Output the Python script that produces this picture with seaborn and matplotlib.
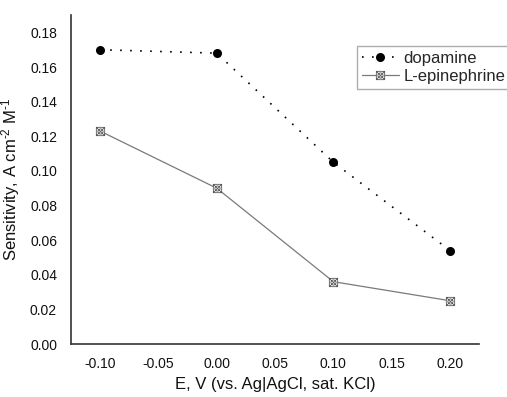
import matplotlib
matplotlib.use("Agg")
import matplotlib.pyplot as plt
from matplotlib.path import Path
import numpy as np
import pandas as pd
import seaborn as sns

# Applied potential (V vs. Ag|AgCl, sat. KCl)
potential = [-0.10, 0.00, 0.10, 0.20]
# Sensitivity, A cm^-2 M^-1
dopamine = [0.170, 0.168, 0.105, 0.054]
epinephrine = [0.123, 0.090, 0.036, 0.025]

x_ticks = [-0.10, -0.05, 0.00, 0.05, 0.10, 0.15, 0.20]
y_ticks = [0.00, 0.02, 0.04, 0.06, 0.08, 0.10, 0.12, 0.14, 0.16, 0.18]

df_dop = pd.DataFrame({"E": potential, "S": dopamine})
df_epi = pd.DataFrame({"E": potential, "S": epinephrine})

sns.set_style("white")
plt.rcParams["font.family"] = ["Liberation Sans", "DejaVu Sans"]
plt.rcParams["mathtext.fontset"] = "custom"
plt.rcParams["mathtext.rm"] = "Liberation Sans"
plt.rcParams["mathtext.it"] = "Liberation Sans"

# square with crossed diagonals and an inscribed circle
sq = Path([(-1, -1), (1, -1), (1, 1), (-1, 1), (-1, -1)],
          [Path.MOVETO, Path.LINETO, Path.LINETO, Path.LINETO, Path.CLOSEPOLY])
d1 = Path([(-1, -1), (1, 1)], [Path.MOVETO, Path.LINETO])
d2 = Path([(-1, 1), (1, -1)], [Path.MOVETO, Path.LINETO])
circ = Path.circle((0, 0), 0.62)
cross_box = Path.make_compound_path(sq, d1, d2, circ)

fig = plt.figure(figsize=(5.07, 3.97), dpi=100)
ax = fig.add_axes([0.140, 0.1335, 0.805, 0.8285])

sns.lineplot(data=df_dop, x="E", y="S", ax=ax, color="black",
             linestyle=(0, (1, 5)), linewidth=1.2,
             marker="o", markersize=6.5, markeredgewidth=0,
             label="dopamine")
sns.lineplot(data=df_epi, x="E", y="S", ax=ax, color="#7a7a7a",
             linewidth=0.9, marker=cross_box, markersize=6,
             markerfacecolor="white", markeredgecolor="#555555",
             markeredgewidth=0.6, label="L-epinephrine")

ax.set_xlim(-0.125, 0.225)
ax.set_ylim(0.0, 0.19)
ax.set_xticks(x_ticks)
ax.set_xticklabels([f"{v:.2f}" for v in x_ticks])
ax.set_yticks(y_ticks)
ax.set_yticklabels([f"{v:.2f}" for v in y_ticks])
ax.tick_params(axis="both", length=0, labelsize=10, colors="#111111")
ax.tick_params(axis="x", pad=9)
ax.tick_params(axis="y", pad=10)

for side in ("top", "right"):
    ax.spines[side].set_visible(False)
for side in ("left", "bottom"):
    ax.spines[side].set_color("#333333")
    ax.spines[side].set_linewidth(1.2)

ax.set_xlabel("E, V (vs. Ag|AgCl, sat. KCl)", fontsize=12, color="#111111",
              labelpad=5)
ax.set_ylabel(r"Sensitivity, A cm$^{\text{-}2}$ M$^{\text{-}1}$", fontsize=12,
              color="#111111", labelpad=6)

leg = ax.legend(loc="upper left", bbox_to_anchor=(357 / 507, 1 - 46 / 397),
                bbox_transform=fig.transFigure, fontsize=12, frameon=True,
                fancybox=False, borderpad=0.3, handlelength=2.2,
                handletextpad=0.3, labelspacing=0.15, borderaxespad=0)
leg.get_frame().set_edgecolor("#999999")
leg.get_frame().set_linewidth(1.0)

fig.savefig("out.png", dpi=100)
